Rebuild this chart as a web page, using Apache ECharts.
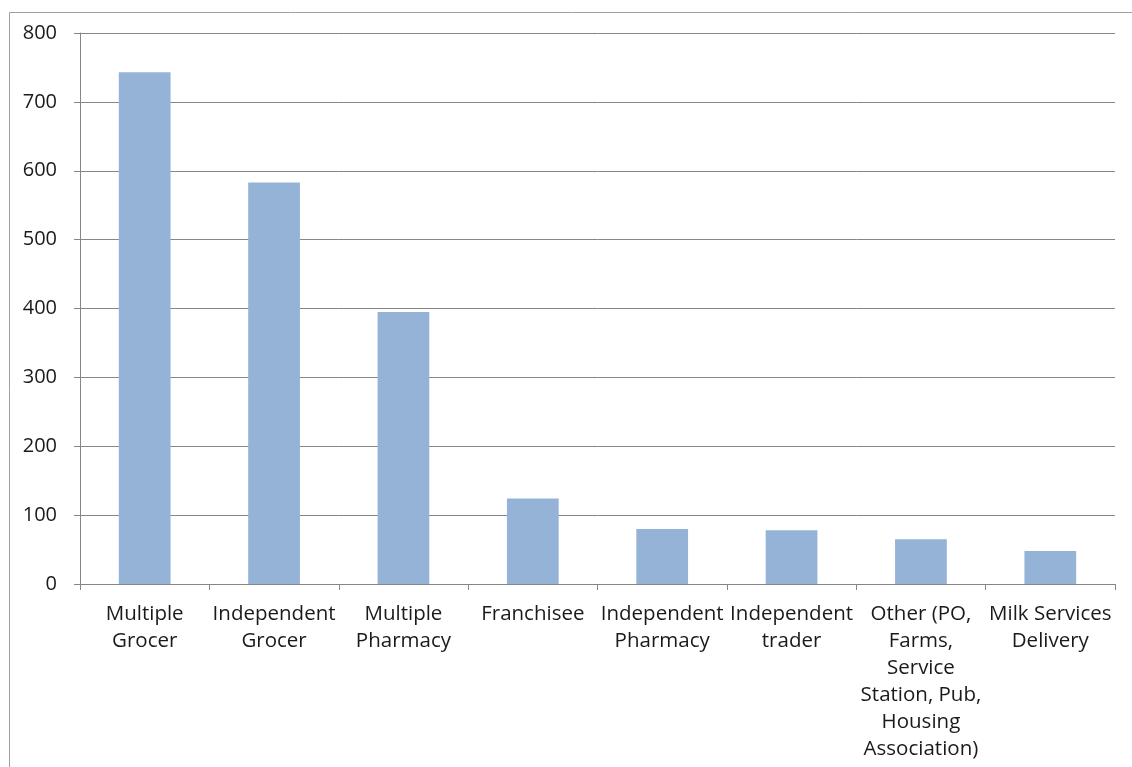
<!DOCTYPE html>
<html>
<head>
<meta charset="utf-8">
<script src="https://cdn.jsdelivr.net/npm/echarts@6/dist/echarts.min.js"></script>
<style>
html,body{margin:0;padding:0;background:#fff;}
#c{width:1132px;height:767px;}
</style>
</head>
<body>
<div id="c"></div>
<script>
const categories = [
  "Multiple\nGrocer",
  "Independent\nGrocer",
  "Multiple\nPharmacy",
  "Franchisee",
  "Independent\nPharmacy",
  "Independent\ntrader",
  "Other (PO,\nFarms,\nService\nStation, Pub,\nHousing\nAssociation)",
  "Milk Services\nDelivery"
];
const values = [743, 583, 395, 124, 80, 78, 65, 48];
const yTicks = [0, 100, 200, 300, 400, 500, 600, 700, 800];

const chart = echarts.init(document.getElementById('c'));
const axisGray = '#868686';
const textColor = '#1a1a1a';
const font = '"Open Sans", Lato, sans-serif';
chart.setOption({
  animation: false,
  graphic: [{
    type: 'rect',
    left: 7, top: 10,
    shape: {width: 1200, height: 800},
    style: {fill: 'none', stroke: '#a0a0a0', lineWidth: 1},
    silent: true
  }],
  grid: {left: 80, right: 17, top: 33, bottom: 183, containLabel: false},
  xAxis: {
    type: 'category',
    data: categories,
    axisLine: {lineStyle: {color: axisGray, width: 1}},
    axisTick: {show: true, length: 6, lineStyle: {color: axisGray}},
    axisLabel: {
      interval: 0,
      color: textColor,
      fontFamily: font,
      fontSize: 20.5,
      lineHeight: 27,
      margin: 17,
      align: 'center'
    }
  },
  yAxis: {
    type: 'value',
    min: yTicks[0],
    max: yTicks[yTicks.length - 1],
    interval: 100,
    axisLine: {show: true, lineStyle: {color: axisGray, width: 1}},
    axisTick: {show: true, length: 6, lineStyle: {color: axisGray}},
    splitLine: {show: true, lineStyle: {color: axisGray, width: 1}},
    axisLabel: {color: textColor, fontFamily: font, fontSize: 20, margin: 23}
  },
  series: [{
    type: 'bar',
    data: values,
    barCategoryGap: '60%',
    itemStyle: {color: '#95B3D7'}
  }]
});
</script>
</body>
</html>
